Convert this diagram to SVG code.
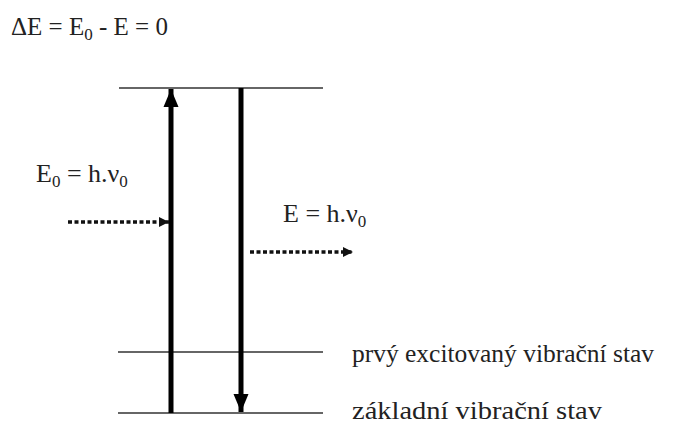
<svg xmlns="http://www.w3.org/2000/svg" width="674" height="426" viewBox="0 0 674 426">
<style>
text{font-family:"Liberation Serif","DejaVu Serif","Times New Roman",serif;fill:#222;}
.lvl{stroke:#333;stroke-width:1.6;fill:none;}
.thick{stroke:#000;stroke-width:5;fill:none;}
.dot{stroke:#111;stroke-width:3.5;stroke-dasharray:4 2.5;fill:none;}
</style>
<defs>
<marker id="bigHead" markerWidth="4" markerHeight="4" refX="3.6" refY="2" orient="auto" markerUnits="strokeWidth">
<path d="M0,0.5 L3.6,2 L0,3.5 Z" fill="#000"/>
</marker>
<marker id="smallHead" markerWidth="4" markerHeight="4" refX="3" refY="2" orient="auto" markerUnits="strokeWidth">
<path d="M0,0.5 L3,2 L0,3.5 Z" fill="#111"/>
</marker>
</defs>
<g id="formula">
<text x="11" y="35" font-size="25" font-family="Liberation Serif, serif">ΔE = E<tspan font-size="17" dy="5">0</tspan><tspan dy="-5"> - E = 0</tspan></text>
</g>
<g id="level-top"><line class="lvl" x1="119" y1="88" x2="323" y2="88"/></g>
<g id="level-excited"><line class="lvl" x1="118" y1="352" x2="323" y2="352"/>
<text x="352" y="362" font-size="25" font-family="Liberation Serif, serif" textLength="302" lengthAdjust="spacingAndGlyphs">prvý excitovaný vibrační stav</text></g>
<g id="level-ground"><line class="lvl" x1="118" y1="413" x2="323" y2="413"/>
<text x="352" y="419" font-size="25" font-family="Liberation Serif, serif" textLength="250" lengthAdjust="spacingAndGlyphs">základní vibrační stav</text></g>
<g id="label-absorb"><text x="36" y="182" font-size="26" font-family="Liberation Serif, serif">E<tspan font-size="17" dy="5">0</tspan><tspan dy="-5"> = h.ν</tspan><tspan font-size="17" dy="5">0</tspan></text></g>
<g id="label-emit"><text x="283" y="222" font-size="26" font-family="Liberation Serif, serif">E = h.ν<tspan font-size="17" dy="5">0</tspan></text></g>
<g id="connectors">
<line class="thick" x1="171" y1="413" x2="171" y2="89" marker-end="url(#bigHead)"/>
<line class="thick" x1="241" y1="88" x2="241" y2="412" marker-end="url(#bigHead)"/>
<line class="dot" x1="68" y1="222" x2="169" y2="222" marker-end="url(#smallHead)"/>
<line class="dot" x1="250" y1="252" x2="353" y2="252" marker-end="url(#smallHead)"/>
</g>
</svg>
